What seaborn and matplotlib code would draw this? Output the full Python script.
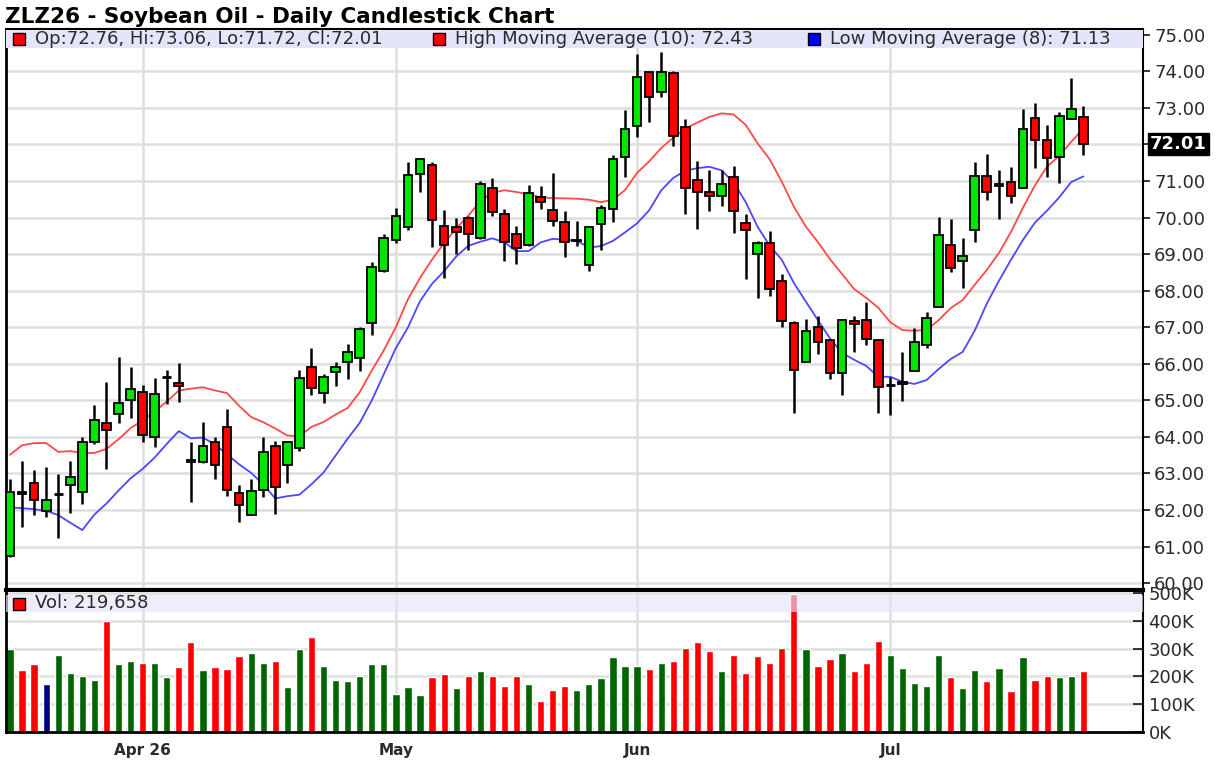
import numpy as np
import pandas as pd
import seaborn as sns
import matplotlib.pyplot as plt
import matplotlib.transforms as mtransforms
from matplotlib.patches import Rectangle

title = "ZLZ26 - Soybean Oil - Daily Candlestick Chart"

opens = [60.73, 62.50, 62.73, 61.97, 62.43, 62.67, 62.50, 63.85, 64.38, 64.62,
         65.01, 65.22, 64.01, 65.65, 65.47, 63.32, 63.31, 63.85, 64.26, 62.46,
         61.86, 62.55, 63.74, 63.24, 63.70, 65.90, 65.20, 65.77, 66.06, 66.16,
         67.12, 68.54, 69.40, 69.74, 71.19, 71.43, 69.77, 69.73, 70.00, 69.44,
         70.81, 70.11, 69.56, 69.24, 70.55, 70.20, 69.88, 69.35, 68.69, 69.83,
         70.24, 71.65, 72.50, 73.99, 73.43, 73.95, 72.47, 71.04, 70.69, 70.58,
         71.10, 69.86, 69.01, 69.31, 68.26, 67.11, 66.05, 67.01, 66.64, 65.75,
         67.16, 67.21, 66.66, 65.43, 65.50, 65.80, 66.50, 67.54, 69.26, 68.82,
         69.66, 71.15, 70.86, 70.98, 70.81, 72.72, 72.11, 71.65, 72.70, 72.76]
highs = [62.85, 63.35, 63.08, 63.17, 62.99, 63.35, 64.01, 64.86, 65.50, 66.18,
         65.91, 65.41, 65.61, 65.84, 66.02, 63.85, 64.40, 63.99, 64.75, 62.69,
         62.85, 64.01, 63.90, 63.90, 65.82, 66.43, 65.72, 66.04, 66.54, 67.00,
         68.78, 69.56, 70.25, 71.51, 71.63, 71.51, 70.22, 70.00, 70.04, 70.99,
         71.09, 70.24, 69.77, 70.88, 70.86, 71.22, 70.17, 69.90, 69.77, 70.34,
         71.70, 72.94, 74.47, 73.99, 74.54, 74.02, 72.70, 71.54, 71.31, 71.31,
         71.40, 70.10, 69.37, 69.62, 68.46, 67.16, 67.23, 67.32, 66.64, 67.23,
         67.32, 67.69, 66.66, 65.64, 66.32, 66.99, 67.42, 70.01, 69.96, 69.43,
         71.51, 71.74, 71.29, 71.39, 72.98, 73.13, 72.54, 72.88, 73.82, 73.06]
lows = [60.70, 61.53, 61.86, 61.80, 61.22, 61.92, 62.15, 63.81, 63.12, 64.38,
        64.52, 63.87, 63.72, 64.89, 64.95, 62.23, 63.29, 62.85, 62.39, 61.66,
        61.86, 62.35, 61.89, 62.73, 63.61, 65.14, 64.94, 65.38, 65.58, 65.79,
        66.79, 68.51, 69.31, 69.65, 70.70, 69.19, 68.34, 68.99, 69.12, 69.42,
        70.04, 68.80, 68.74, 69.22, 70.24, 69.76, 68.92, 69.22, 68.54, 69.12,
        69.87, 71.10, 72.21, 72.61, 73.29, 71.95, 70.10, 69.69, 70.17, 70.33,
        69.58, 68.31, 67.81, 67.85, 67.01, 64.64, 66.05, 66.28, 65.59, 65.14,
        66.32, 66.50, 64.66, 64.60, 64.98, 65.80, 66.44, 67.54, 68.52, 68.06,
        69.34, 70.49, 69.96, 70.40, 70.81, 71.35, 71.12, 70.95, 72.70, 71.72]
closes = [62.50, 62.43, 62.27, 62.27, 62.43, 62.89, 63.85, 64.47, 64.20, 64.93,
          65.32, 64.04, 65.16, 65.65, 65.39, 63.38, 63.76, 63.23, 62.55, 62.14,
          62.53, 63.58, 62.62, 63.85, 65.62, 65.35, 65.65, 65.92, 66.31, 66.94,
          68.66, 69.44, 70.04, 71.16, 71.60, 69.94, 69.24, 69.61, 69.54, 70.93,
          70.14, 69.33, 69.18, 70.68, 70.43, 69.90, 69.33, 69.40, 69.74, 70.27,
          71.60, 72.42, 73.84, 73.31, 73.99, 72.22, 70.81, 70.69, 70.58, 70.92,
          70.17, 69.66, 69.31, 68.05, 67.16, 65.82, 66.89, 66.60, 65.75, 67.19,
          67.10, 66.67, 65.37, 65.43, 65.45, 66.60, 67.26, 69.53, 68.61, 68.95,
          71.15, 70.71, 70.92, 70.58, 72.43, 72.13, 71.62, 72.79, 72.96, 72.01]
volumes = [298000, 224000, 243000, 173000, 277000, 212000, 202000, 188000, 399000, 243000,
           257000, 248000, 248000, 198000, 233000, 323000, 224000, 233000, 227000, 273000,
           283000, 248000, 257000, 162000, 298000, 343000, 237000, 188000, 182000, 202000,
           243000, 243000, 137000, 162000, 132000, 198000, 207000, 157000, 202000, 218000,
           202000, 167000, 202000, 173000, 112000, 152000, 167000, 152000, 173000, 193000,
           268000, 237000, 237000, 227000, 248000, 257000, 302000, 323000, 293000, 218000,
           277000, 212000, 273000, 248000, 302000, 498000, 298000, 237000, 262000, 283000,
           218000, 248000, 327000, 277000, 232000, 176000, 167000, 277000, 198000, 157000,
           223000, 182000, 232000, 148000, 268000, 187000, 202000, 198000, 202000, 219658]

# moving average values at the start of the window (history before the first bar)
high_ma_head = [63.51, 63.77, 63.83, 63.83, 63.59, 63.61, 63.56, 63.56, 63.67]
low_ma_head = [62.07, 62.05, 62.02, 61.98, 61.86, 61.65, 61.45]

holidays = ["2026-04-03", "2026-05-25", "2026-06-19", "2026-07-03"]
dates = pd.bdate_range("2026-03-17", "2026-07-24", freq="C", holidays=holidays)
month_labels = ["Apr 26", "May", "Jun", "Jul"]

df = pd.DataFrame({"date": dates, "open": opens, "high": highs, "low": lows,
                   "close": closes, "volume": volumes})
df["i"] = np.arange(len(df))
df["high_ma"] = df["high"].rolling(10).mean()
df.loc[:len(high_ma_head) - 1, "high_ma"] = high_ma_head
df["low_ma"] = df["low"].rolling(8).mean()
df.loc[:len(low_ma_head) - 1, "low_ma"] = low_ma_head
chg = df["close"].diff().fillna(1)
df["dir"] = np.where(chg > 0, "up", np.where(chg < 0, "down", "flat"))

month_pos = df[df["date"].dt.month >= 4].groupby(df["date"].dt.month)["i"].min().tolist()

sns.set_style("white")
plt.rcParams["font.family"] = ["DejaVu Sans"]

W, H = 1227, 766
fig = plt.figure(figsize=(W / 100, H / 100), dpi=100)
ax = fig.add_axes([6 / W, 176 / H, 1137 / W, 561 / H])
axv = fig.add_axes([6 / W, 34 / H, 1137 / W, 140 / H])

grid_c = "#dedede"
xlim = (-0.33, 93.95)

# price panel
for x in month_pos:
    ax.axvline(x, color=grid_c, lw=1.8, zorder=0)
for y in range(60, 76):
    ax.axhline(y, color=grid_c, lw=1.8, zorder=0)

sns.lineplot(data=df, x="i", y="high_ma", color="#ff4848", lw=1.3, ax=ax, zorder=2)
sns.lineplot(data=df, x="i", y="low_ma", color="#4848ff", lw=1.3, ax=ax, zorder=2)

ax.vlines(df["i"], df["low"], df["high"], color="black", lw=1.8, zorder=3)
body = df[df["open"] != df["close"]]
ax.bar(body["i"], (body["close"] - body["open"]).abs(),
       bottom=body[["open", "close"]].min(axis=1), width=0.72,
       color=np.where(body["close"] > body["open"], "#00e600", "#ff0000"),
       edgecolor="black", lw=1.3, zorder=4)
doji = df[df["open"] == df["close"]]
ax.hlines(doji["open"], doji["i"] - 0.36, doji["i"] + 0.36, color="black", lw=2, zorder=4)

ax.set_xlim(*xlim)
ax.set_ylim(59.81, 75.16)
ax.set_xlabel("")
ax.set_ylabel("")
ax.set_xticks([])
ax.yaxis.tick_right()
ax.set_yticks(range(60, 76))
ax.set_yticklabels(["" if v == 72 else f"{v:.2f}" for v in range(60, 76)])
ax.tick_params(axis="y", direction="out", length=5, width=1.3, labelsize=13,
               labelcolor="#2a2a2a", pad=3)
for side, lw in [("left", 2), ("top", 1.5), ("right", 1.5), ("bottom", 3)]:
    ax.spines[side].set_color("black")
    ax.spines[side].set_linewidth(lw)

band = Rectangle((0, 1 - 19 / 561), 1, 18 / 561, transform=ax.transAxes,
                 facecolor="#e4e4fa", edgecolor="none", zorder=5)
ax.add_patch(band)
yb = 1 - 10 / 561
legend_items = [
    (13 / 1137, "#ff0000", f"Op:{opens[-1]:.2f}, Hi:{highs[-1]:.2f}, Lo:{lows[-1]:.2f}, Cl:{closes[-1]:.2f}"),
    (433 / 1137, "#ff0000", f"High Moving Average (10): {df['high_ma'].iloc[-1]:.2f}"),
    (808 / 1137, "#0000ff", f"Low Moving Average (8): {df['low_ma'].iloc[-1]:.2f}"),
]
for xs, col, txt in legend_items:
    ax.plot([xs], [yb], marker="s", ms=8, mfc=col, mec="black", mew=1,
            transform=ax.transAxes, clip_on=False, zorder=6)
    ax.text(xs + 16 / 1137, yb, txt, transform=ax.transAxes, fontsize=13,
            color="#2a2a2a", va="center", ha="left", zorder=6)

trans = mtransforms.blended_transform_factory(ax.transAxes, ax.transData)
ax.text(1.006, closes[-1], f"{closes[-1]:.2f}", transform=trans, fontsize=13,
        weight="bold", color="white", va="center", ha="left", zorder=10,
        bbox=dict(boxstyle="square,pad=0.12", facecolor="black", edgecolor="black"))

# volume panel
for x in month_pos:
    axv.axvline(x, color=grid_c, lw=1.8, zorder=0)
for y in range(100000, 500001, 100000):
    axv.axhline(y, color=grid_c, lw=1.8, zorder=0)

sns.barplot(data=df, x="i", y="volume", hue="dir", native_scale=True, dodge=False,
            palette={"up": "#006400", "down": "#ff0000", "flat": "#000080"},
            width=0.6, saturation=1, legend=False, ax=axv, zorder=2)

vband = Rectangle((0, 1 - 20 / 140), 1, 17 / 140, transform=axv.transAxes,
                  facecolor="#e4e4fa", edgecolor="none", alpha=0.65, zorder=5)
axv.add_patch(vband)
yv = 1 - 11.5 / 140
axv.plot([13 / 1137], [yv], marker="s", ms=8, mfc="#ff0000", mec="black", mew=1,
         transform=axv.transAxes, clip_on=False, zorder=6)
axv.text(29 / 1137, yv, f"Vol: {volumes[-1]:,}", transform=axv.transAxes,
         fontsize=13, color="#2a2a2a", va="center", ha="left", zorder=6)

axv.set_xlim(*xlim)
axv.set_ylim(0, 503600)
axv.set_xlabel("")
axv.set_ylabel("")
axv.set_xticks(month_pos)
axv.set_xticklabels(month_labels, fontsize=11, weight="bold", color="#2a2a2a")
axv.tick_params(axis="x", direction="out", length=5, width=1.3, pad=3)
axv.yaxis.tick_right()
axv.set_yticks(range(0, 500001, 100000))
axv.set_yticklabels([f"{v // 1000}K" for v in range(0, 500001, 100000)])
axv.tick_params(axis="y", direction="in", length=7, width=1.3, labelsize=13,
                labelcolor="#2a2a2a", pad=4)
for side, lw in [("left", 2), ("top", 0), ("right", 1.5), ("bottom", 2)]:
    axv.spines[side].set_color("black")
    axv.spines[side].set_linewidth(lw)

fig.text(5 / W, 1 - 17 / H, title, fontsize=15.5, weight="bold", color="black",
         va="center", ha="left")

fig.savefig("out.png", dpi=100)
